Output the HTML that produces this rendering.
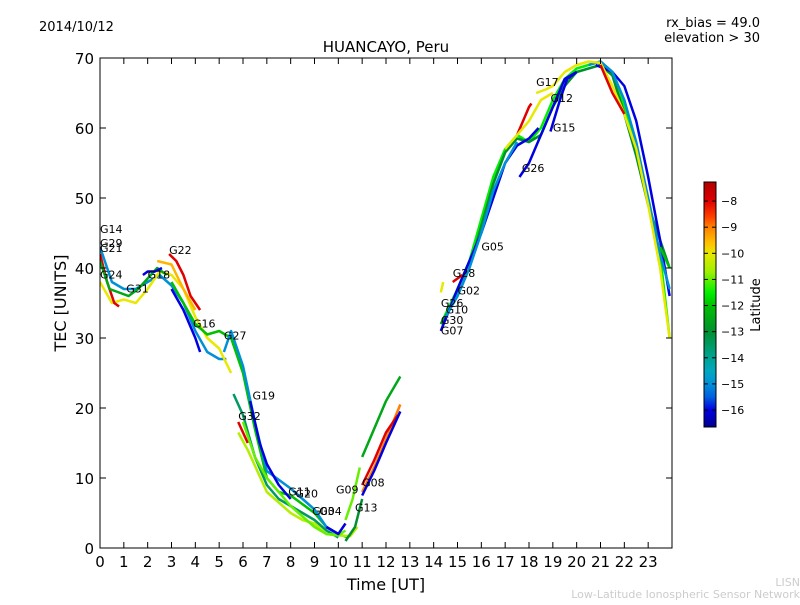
<!DOCTYPE html>
<html><head><meta charset="utf-8"><style>
body{margin:0;background:#fff;font-family:"Liberation Sans",sans-serif}
svg text{font-family:"DejaVu Sans","Liberation Sans",sans-serif}
</style></head><body>
<svg id="c" width="800" height="600" xmlns="http://www.w3.org/2000/svg">
<defs>
<clipPath id="clip"><rect x="100" y="58" width="572" height="490"/></clipPath>
<linearGradient id="cmap" x1="0" y1="0" x2="0" y2="1"></linearGradient>
</defs>
<rect x="0" y="0" width="800" height="600" fill="#fff"/>
<text x="39" y="31" font-size="13">2014/10/12</text>
<text x="760" y="27" font-size="13" text-anchor="end">rx_bias = 49.0</text>
<text x="760" y="42" font-size="13" text-anchor="end">elevation &gt; 30</text>
<text x="386" y="52" font-size="15" text-anchor="middle">HUANCAYO, Peru</text>
<g id="plot" clip-path="url(#clip)"></g>
<rect x="100" y="58" width="572" height="490" fill="none" stroke="#000" stroke-width="1"/>
<g id="axes"></g>
<text x="386" y="590" font-size="16" text-anchor="middle">Time [UT]</text>
<text x="66" y="303" font-size="16" text-anchor="middle" transform="rotate(-90 66 303)">TEC [UNITS]</text>
<rect x="704" y="182" width="12" height="245" fill="url(#cmap)" stroke="#000" stroke-width="1"/>
<g id="cbar"></g>
<text x="760" y="305" font-size="13" text-anchor="middle" transform="rotate(-90 760 305)">Latitude</text>
<text x="800" y="586" font-size="11" fill="#ccc" text-anchor="end">LISN</text>
<text x="800" y="598" font-size="11" fill="#ccc" text-anchor="end">Low-Latitude Ionospheric Sensor Network</text>
</svg>
<script>
const xTicks=[0,1,2,3,4,5,6,7,8,9,10,11,12,13,14,15,16,17,18,19,20,21,22,23];
const yTicks=[0,10,20,30,40,50,60,70];
const cbTicks=[-8,-9,-10,-11,-12,-13,-14,-15,-16];
const tracks=[
{lat:-15,t:[0,0.5,1,1.5,2,2.5,3,3.5,4,4.5,5,5.3],v:[43,38,37,37,38,39,37.5,35,31,28,27,27]},
{lat:-10,t:[0,0.5,1,1.5,2,2.5,3,3.5,4,4.5,5,5.5],v:[38,35,35.5,35,37,39.5,39,37,33,30,28.5,25]},
{lat:-8,t:[0,0.3,0.6,0.8],v:[42,38,35,34.5]},
{lat:-12.5,t:[0,0.4,0.8,1.2,1.6,2,2.4,2.8],v:[41,37,36.5,36,37,38.5,40,39]},
{lat:-16,t:[1.8,2,2.3,2.6],v:[39,39.5,39.5,40]},
{lat:-8,t:[2.9,3.2,3.5,3.8,4.2],v:[42,41,39,36,34]},
{lat:-9.5,t:[2.4,3,3.5,4],v:[41,40.5,37,34]},
{lat:-16,t:[3,3.5,4,4.2],v:[37,34,30,28]},
{lat:-12,t:[3,3.5,4,4.5,5,5.5,6,6.5,7,7.5,8,9,9.5,10,10.4],v:[38,35,32,30.5,31,30,25,17,10,8,7.5,5,3,2,1.5]},
{lat:-15,t:[5.2,5.5,6,6.5,7,8,9,9.5,10],v:[28,31,26,18,11,8.5,5.5,3,2]},
{lat:-16,t:[6.3,6.7,7,7.5,8],v:[21,15,12,9,7]},
{lat:-13.5,t:[5.6,6,6.5,7,7.5,8,8.5,9,9.5,10],v:[22,19,13,9,7,6,5,4,2.5,1.5]},
{lat:-8,t:[5.8,6,6.2],v:[18,16.5,15]},
{lat:-10.5,t:[5.8,6.2,6.6,7,7.5,8,8.5,9,9.5,10,10.5,10.8],v:[16.5,14,11,8,6.5,5,4,3.5,2,1.8,1.7,3]},
{lat:-11,t:[6,6.5,7,7.5,8,8.5,9,9.5,10,10.3],v:[18,13,10,8,6,4.5,3,2,1.8,2.5]},
{lat:-16,t:[9.5,10,10.3],v:[3,2,3.5]},
{lat:-11,t:[10.3,10.6,10.9],v:[4,7,11.5]},
{lat:-13,t:[10.3,10.7,11],v:[1,3,7]},
{lat:-9,t:[11,11.5,12,12.6],v:[8,11.5,15.5,20.5]},
{lat:-8,t:[11,11.5,12,12.5],v:[9,12.5,16.5,19]},
{lat:-16,t:[11,11.5,12,12.6],v:[7.5,11,15,19.5]},
{lat:-12.5,t:[11,11.5,12,12.6],v:[13,17,21,24.5]},
{lat:-11.5,t:[14.3,15,15.5,16,16.5,17,17.5,18,18.5,19,19.5,20,20.5,21,21.5,22,22.5,23,23.5,23.9],v:[32,37,41,47,53,57,59,58,60,64,67,68.5,69,69.5,68,63,57,50,42,30]},
{lat:-13,t:[14.3,15,15.5,16,16.5,17,17.5,18,18.5,19,19.5,20,20.5,21,21.5,22,22.5,23,23.5,23.9],v:[32,36,40,46,52,56.5,58.5,58,59,63,66,68,68.5,69,67.5,62,56,49,44,40]},
{lat:-16,t:[14.3,15,15.5,16,16.5,17,17.5,18,18.4],v:[31,37,41,45,50,55,57.5,58.5,60]},
{lat:-15,t:[14.5,15,15.5,16,16.5,17,17.5],v:[33,36,40,45,51,55,58]},
{lat:-16,t:[17.6,18,18.5,19,19.5,20],v:[53,55,59,63,67,68]},
{lat:-16,t:[18.9,19.3,19.6,20],v:[59.5,64,67,68]},
{lat:-16,t:[20.8,21.5,22,22.5,23,23.5,23.9],v:[69,68,66,61,53,44,36]},
{lat:-15,t:[20.5,21,21.5,22,22.5,23,23.5,23.9],v:[69,69.5,68,64,58,50,42,37]},
{lat:-10,t:[18.3,18.7,19,19.5,20,20.5,21,21.5,22,22.5,23,23.5,23.9],v:[65,65.5,66,68,69,69.5,69.3,66,62,57,49,40,30]},
{lat:-8,t:[17.5,18,18.1],v:[59,63,63.5]},
{lat:-8,t:[21,21.5,22],v:[69,65,62]},
{lat:-10,t:[17,17.5,18,18.5,19],v:[57,59,61,64,65]},
{lat:-12,t:[23.5,23.9],v:[43,40]},
{lat:-10,t:[14.3,14.4],v:[36.5,38]},
{lat:-8,t:[14.8,15.2],v:[38,39]}
];
const labels=[["G14",0,45],["G29",0,43],["G21",0,42.3],["G24",0,38.5],["G31",1.1,36.5],["G18",2,38.5],["G22",2.9,42],["G16",3.9,31.5],["G27",5.2,29.8],["G19",6.4,21.2],["G32",5.8,18.3],["G11",7.9,7.5],["G20",8.2,7.2],["G03",8.9,4.7],["G04",9.2,4.7],["G09",9.9,7.8],["G08",11,8.8],["G13",10.7,5.2],["G28",14.8,38.7],["G02",15,36.2],["G26",14.3,34.4],["G10",14.5,33.5],["G30",14.3,32],["G07",14.3,30.5],["G05",16,42.5],["G26",17.7,53.7],["G17",18.3,66],["G12",18.9,63.7],["G15",19,59.5]];
const cmapStops=[[-7.27,[176,0,0]],[-8,[224,0,0]],[-8.6,[255,64,0]],[-9,[255,128,0]],[-9.6,[255,192,0]],[-10,[232,232,0]],[-10.7,[160,240,0]],[-11.5,[0,240,0]],[-12,[0,192,0]],[-13,[0,144,48]],[-13.8,[0,160,128]],[-14.5,[0,168,192]],[-15,[0,144,216]],[-15.5,[0,96,224]],[-16,[0,0,224]],[-16.65,[0,0,144]]];
const X=t=>100+t*(572/24), Y=v=>548-v*7;
const NS="http://www.w3.org/2000/svg";
function cmap(lat){if(lat>=cmapStops[0][0])return 'rgb('+cmapStops[0][1]+')';
for(let i=1;i<cmapStops.length;i++){const a=cmapStops[i-1],b=cmapStops[i];if(lat>=b[0]){const f=(a[0]-lat)/(a[0]-b[0]);return 'rgb('+a[1].map((c,k)=>Math.round(c+(b[1][k]-c)*f)).join(',')+')';}}
return 'rgb('+cmapStops[cmapStops.length-1][1]+')';}
const grad=document.getElementById('cmap');
cmapStops.forEach(s=>{const st=document.createElementNS(NS,'stop');st.setAttribute('offset',((-7.27-s[0])/(16.65-7.27)).toFixed(3));st.setAttribute('stop-color','rgb('+s[1]+')');grad.appendChild(st);});
const plot=document.getElementById('plot');
tracks.forEach((tr,i)=>{const p=document.createElementNS(NS,'polyline');
p.setAttribute('points',tr.t.map((t,j)=>X(t)+','+Y(tr.v[j])).join(' '));
p.setAttribute('fill','none');p.setAttribute('stroke',cmap(tr.lat));p.setAttribute('stroke-width','2.5');p.setAttribute('stroke-linejoin','round');


plot.appendChild(p);});
labels.forEach(l=>{const t=document.createElementNS(NS,'text');t.setAttribute('x',X(l[1]));t.setAttribute('y',Y(l[2]));t.setAttribute('font-size','11');t.textContent=l[0];


plot.appendChild(t);});
const ax=document.getElementById('axes');
function line(x1,y1,x2,y2,g){const l=document.createElementNS(NS,'line');l.setAttribute('x1',x1);l.setAttribute('y1',y1);l.setAttribute('x2',x2);l.setAttribute('y2',y2);l.setAttribute('stroke','#000');g.appendChild(l);return l;}
function txt(x,y,s,fs,anchor,g,name){const t=document.createElementNS(NS,'text');t.setAttribute('x',x);t.setAttribute('y',y);t.setAttribute('font-size',fs);t.setAttribute('text-anchor',anchor);t.textContent=s;


g.appendChild(t);}
xTicks.forEach(v=>{const x=X(v);line(x,548,x,542,ax);line(x,58,x,64,ax);txt(x,567,v,15,'middle',ax,'x-tick-label-'+v);});
yTicks.forEach(v=>{const y=Y(v);line(100,y,106,y,ax);line(672,y,666,y,ax);txt(94,y+6,v,15,'end',ax,'y-tick-label-'+v);});
const cb=document.getElementById('cbar');
cbTicks.forEach(v=>{const y=182+(-7.27-v)*(245/(16.65-7.27));line(704,y,708,y,cb);line(716,y,712,y,cb);txt(721,y+4,'\u2212'+(-v),11,'start',cb,'colorbar-tick-'+(-v));});
</script>
</body></html>
